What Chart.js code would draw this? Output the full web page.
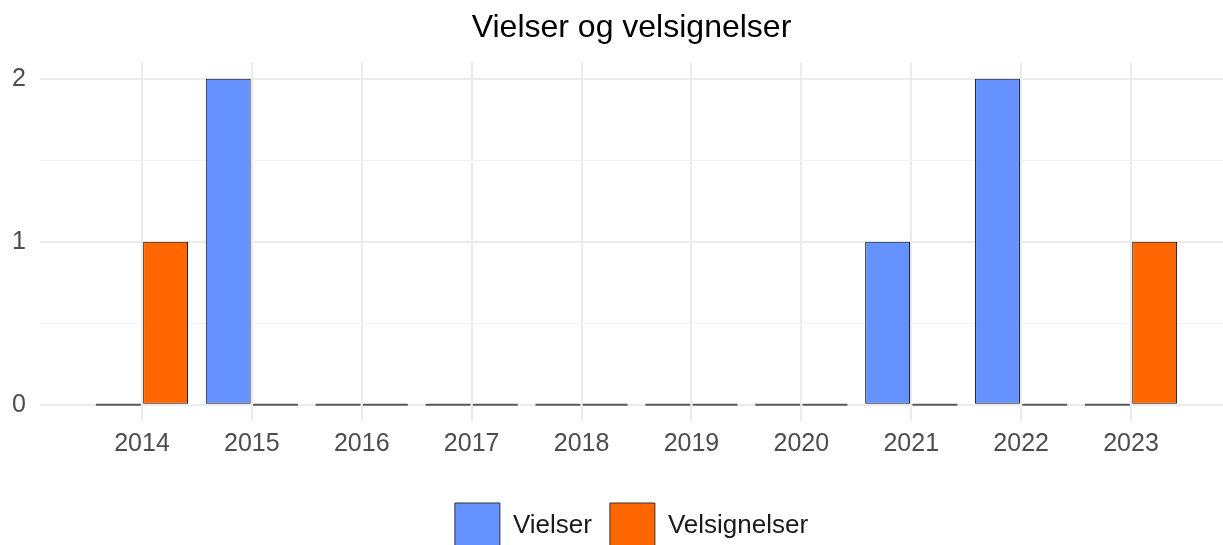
<!DOCTYPE html>
<html lang="no">
<head>
    <meta charset="UTF-8">
    <title>Vielser og velsignelser</title>
    <script src="https://cdn.jsdelivr.net/npm/chart.js"></script>
    <style>
        html, body {
            margin: 0;
            padding: 0;
            background: #ffffff;
        }

        #wrap {
            width: 1223px;
            height: 545px;
        }
    </style>
</head>
<body>
    <div id="wrap">
        <canvas id="chart"></canvas>
    </div>

    <script>
        // Data
        const years = [2014, 2015, 2016, 2017, 2018, 2019, 2020, 2021, 2022, 2023];
        const vielser = [0, 2, 0, 0, 0, 0, 0, 1, 2, 0];
        const velsignelser = [1, 0, 0, 0, 0, 0, 0, 0, 0, 1];
        const yTicks = [0, 0.5, 1, 1.5, 2];
        const seriesColors = ['#6592FF', '#FF6600'];

        const FONT = '"Liberation Sans", Arial, Helvetica, sans-serif';

        // Zero counts show up as a flat dark line on the baseline
        function fill(color) {
            return ctx => (ctx.parsed && ctx.parsed.y === 0) ? '#5a5a5a' : color;
        }
        function border() {
            return ctx => (ctx.parsed && ctx.parsed.y === 0) ? 0 : 1;
        }

        function makeDataset(label, values, color) {
            return {
                label: label,
                data: values.map((v, i) => ({ x: years[i], y: v })),
                backgroundColor: fill(color),
                borderColor: '#111111',
                borderWidth: border(),
                borderSkipped: false,
                minBarLength: 2,
                categoryPercentage: 0.86,
                barPercentage: 0.95
            };
        }

        const ctx = document.getElementById('chart').getContext('2d');
        new Chart(ctx, {
            type: 'bar',
            data: {
                datasets: [
                    makeDataset('Vielser', vielser, seriesColors[0]),
                    makeDataset('Velsignelser', velsignelser, seriesColors[1])
                ]
            },
            options: {
                responsive: true,
                maintainAspectRatio: false,
                animation: false,
                layout: {
                    padding: { left: 12, right: 0, top: 0, bottom: -13 }
                },
                plugins: {
                    title: {
                        display: true,
                        text: 'Vielser og velsignelser',
                        fullSize: false,
                        color: '#000000',
                        font: { family: FONT, size: 32, weight: 'normal' },
                        padding: { top: 9, bottom: 15 }
                    },
                    legend: {
                        position: 'bottom',
                        fullSize: false,
                        labels: {
                            boxWidth: 45,
                            boxHeight: 45,
                            padding: 18,
                            color: '#1a1a1a',
                            font: { family: FONT, size: 26 },
                            generateLabels: chart => {
                                const items = Chart.defaults.plugins.legend.labels.generateLabels(chart);
                                items.forEach((item, i) => {
                                    item.fillStyle = seriesColors[i];
                                    item.strokeStyle = '#333333';
                                    item.lineWidth = 1;
                                });
                                return items;
                            }
                        }
                    },
                    tooltip: { enabled: false }
                },
                scales: {
                    x: {
                        type: 'linear',
                        offset: false,
                        min: 2013.072,
                        max: 2023.837,
                        afterBuildTicks: axis => {
                            axis.ticks = years.map(v => ({ value: v }));
                        },
                        afterFit: axis => {
                            axis.height = 64;
                        },
                        grid: {
                            offset: false,
                            color: '#EBEBEB',
                            lineWidth: 2,
                            drawTicks: false
                        },
                        border: { display: false },
                        ticks: {
                            color: '#4D4D4D',
                            padding: 8,
                            autoSkip: false,
                            maxRotation: 0,
                            font: { family: FONT, size: 25 },
                            callback: v => String(v)
                        }
                    },
                    y: {
                        min: -0.1,
                        max: 2.1,
                        afterBuildTicks: axis => {
                            axis.ticks = yTicks.map(v => ({ value: v }));
                        },
                        afterFit: axis => {
                            axis.width = 28;
                        },
                        grid: {
                            color: c => (c.tick && c.tick.value % 1 === 0) ? '#EBEBEB' : '#F2F2F2',
                            lineWidth: c => (c.tick && c.tick.value % 1 === 0) ? 2 : 1,
                            drawTicks: false
                        },
                        border: { display: false },
                        ticks: {
                            color: '#4D4D4D',
                            padding: 14,
                            font: { family: FONT, size: 25 },
                            callback: v => (v % 1 === 0) ? String(v) : ''
                        }
                    }
                }
            }
        });
    </script>
</body>
</html>
